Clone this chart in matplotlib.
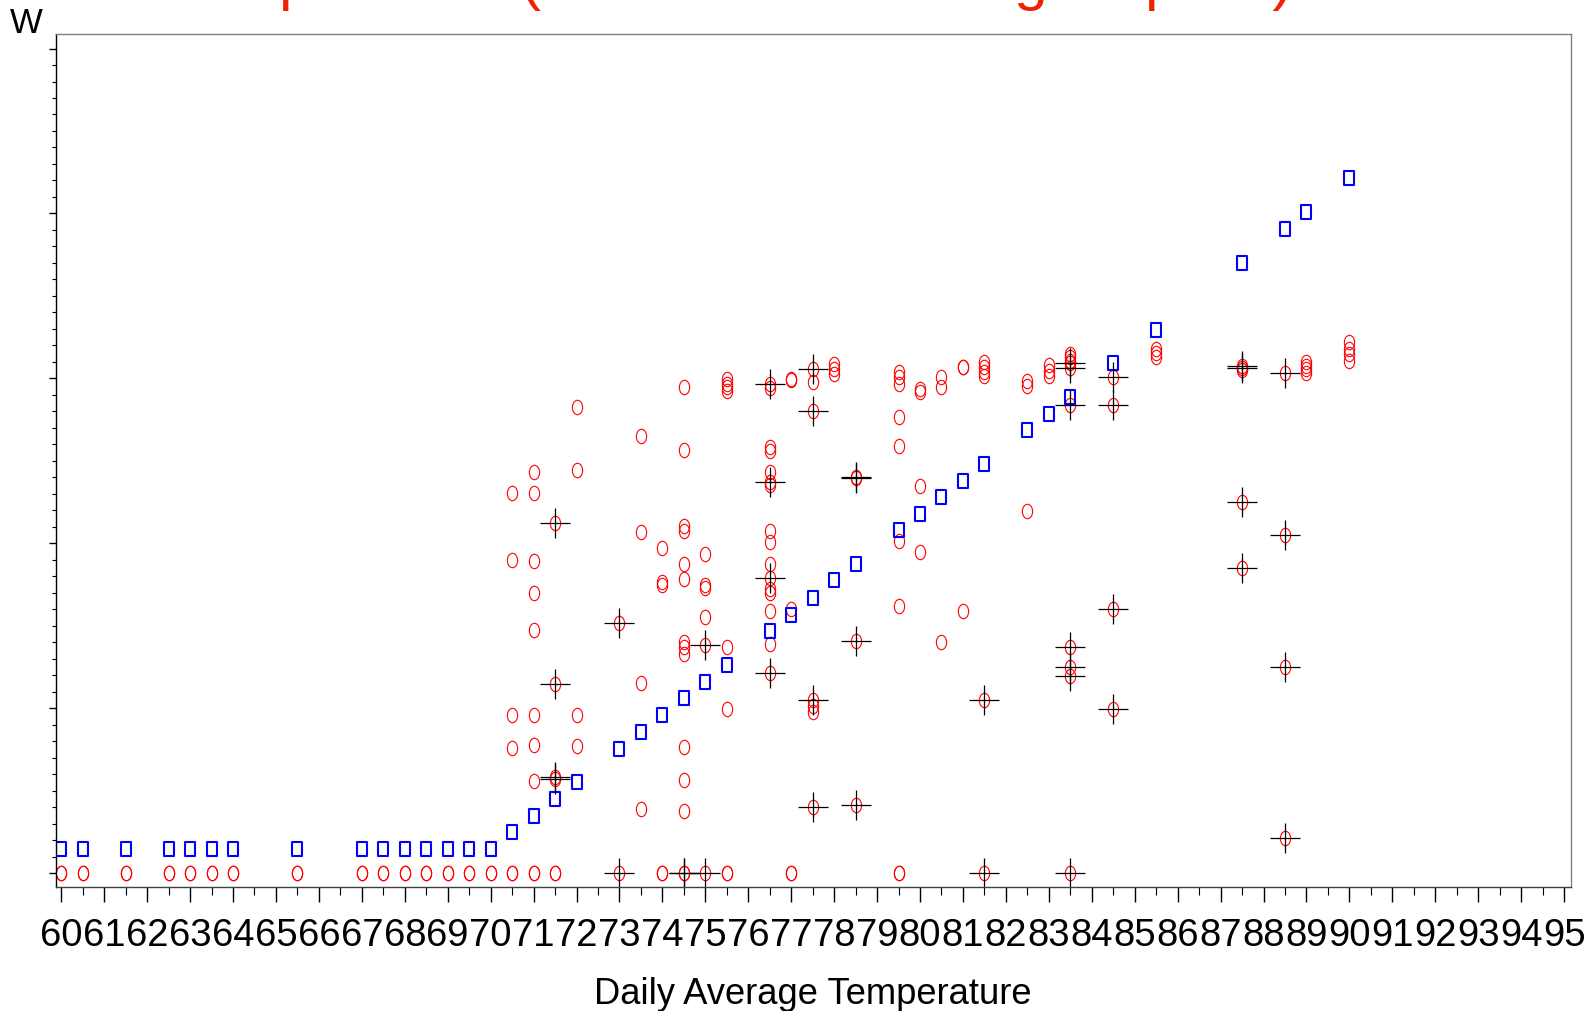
import matplotlib
matplotlib.use('Agg')
import matplotlib.pyplot as plt
import matplotlib.transforms as mtrans
from matplotlib.path import Path
from matplotlib.ticker import MultipleLocator, NullFormatter

plt.rcParams['font.family'] = ['Liberation Sans', 'DejaVu Sans']

# Smoothed / fitted value per daily average temperature (blue squares)
fit_temp = [60, 60.5, 61.5, 62.5, 63, 63.5, 64, 65.5, 67, 67.5, 68, 68.5, 69, 69.5, 70,
            70.5, 71, 71.5, 72, 73, 73.5, 74, 74.5, 75, 75.5, 76.5, 77, 77.5, 78, 78.5,
            79.5, 80, 80.5, 81, 81.5, 82.5, 83, 83.5, 84.5, 85.5, 87.5, 88.5, 89, 90]
fit_val = [1.45, 1.45, 1.45, 1.45, 1.45, 1.45, 1.45, 1.45, 1.45, 1.45, 1.45, 1.45, 1.45, 1.45, 1.45,
           2.49, 3.47, 4.52, 5.50, 7.53, 8.58, 9.56, 10.61, 11.59, 12.64, 14.67, 15.66, 16.70, 17.75, 18.73,
           20.83, 21.75, 22.80, 23.78, 24.83, 26.86, 27.85, 28.89, 30.92, 32.95, 37.02, 39.05, 40.09, 42.12]

# Observed days (red circles)
obs_temp = [60, 60, 60.5, 60.5, 61.5, 61.5, 62.5, 62.5, 63, 63, 63.5, 63.5, 64, 64,
            65.5, 65.5, 67, 67, 67.5, 67.5, 68, 68, 68.5, 68.5, 69, 69, 69.5, 69.5, 70, 70,
            70.5, 70.5, 70.5, 70.5, 70.5, 70.5,
            71, 71, 71, 71, 71, 71, 71, 71, 71, 71,
            71.5, 71.5,
            72, 72, 72, 72,
            73.5, 73.5, 73.5, 73.5,
            74, 74, 74, 74, 74,
            74.5, 74.5, 74.5, 74.5, 74.5, 74.5, 74.5, 74.5, 74.5, 74.5, 74.5, 74.5,
            75, 75, 75, 75,
            75.5, 75.5, 75.5, 75.5, 75.5, 75.5, 75.5, 75.5,
            76.5, 76.5, 76.5, 76.5, 76.5, 76.5, 76.5, 76.5, 76.5, 76.5, 76.5, 76.5,
            77, 77, 77, 77, 77,
            77.5, 77.5, 77.5,
            78, 78, 78,
            79.5, 79.5, 79.5, 79.5, 79.5, 79.5, 79.5, 79.5, 79.5,
            80, 80, 80, 80,
            80.5, 80.5, 80.5,
            81, 81, 81,
            81.5, 81.5, 81.5, 81.5,
            82.5, 82.5, 82.5,
            83, 83, 83,
            83.5, 83.5, 83.5,
            85.5, 85.5, 85.5,
            87.5,
            89, 89, 89, 89,
            90, 90, 90, 90]
obs_val = [0, 0, 0, 0, 0, 0, 0, 0, 0, 0, 0, 0, 0, 0,
           0, 0, 0, 0, 0, 0, 0, 0, 0, 0, 0, 0, 0, 0, 0, 0,
           23.04, 18.98, 9.56, 7.59, 0, 0,
           24.34, 23.04, 18.92, 17.01, 14.76, 9.56, 7.78, 5.56, 0, 0,
           0, 0,
           28.28, 24.44, 9.56, 7.71,
           26.52, 20.66, 11.53, 3.90,
           19.72, 17.62, 17.48, 0, 0,
           29.46, 25.66, 21.07, 20.76, 18.74, 17.83, 13.99, 13.69, 13.29, 7.66, 5.62, 3.78,
           19.35, 17.44, 17.26, 15.55,
           29.93, 29.66, 29.46, 29.26, 13.73, 9.93, 0, 0,
           29.44, 25.81, 25.62, 24.30, 23.53, 20.76, 20.06, 18.73, 17.22, 17.01, 15.87, 13.87,
           29.93, 29.90, 16.02, 0, 0,
           29.76, 10.12, 9.75,
           30.87, 30.57, 30.26,
           30.37, 30.06, 29.66, 27.68, 25.88, 20.16, 16.22, 0, 0,
           29.35, 29.19, 23.50, 19.49,
           30.06, 29.46, 14.03,
           30.71, 30.68, 15.91,
           30.98, 30.67, 30.41, 30.12,
           29.86, 29.56, 21.98,
           30.81, 30.47, 30.17,
           31.48, 31.28, 31.07,
           31.78, 31.53, 31.29,
           30.49,
           30.98, 30.77, 30.55, 30.30,
           32.18, 31.78, 31.47, 31.07]

# Flagged days (black plus over a red circle)
flag_temp = [71.5, 71.5, 71.5, 71.5,
             73, 73,
             74.5, 74.5,
             75, 75,
             76.5, 76.5, 76.5, 76.5,
             77.5, 77.5, 77.5, 77.5,
             78.5, 78.5, 78.5, 78.5,
             81.5, 81.5,
             83.5, 83.5, 83.5, 83.5, 83.5, 83.5, 83.5,
             84.5, 84.5, 84.5, 84.5,
             87.5, 87.5, 87.5, 87.5,
             88.5, 88.5, 88.5, 88.5]
flag_val = [21.23, 11.47, 5.85, 5.70,
            15.16, 0,
            0, 0,
            13.83, 0,
            29.66, 23.72, 17.87, 12.15,
            30.57, 28.04, 10.49, 4.02,
            24.00, 23.95, 14.09, 4.15,
            10.49, 0,
            30.92, 30.63, 28.39, 13.69, 12.47, 11.97, 0,
            30.06, 28.39, 16.01, 9.93,
            30.77, 30.61, 22.49, 18.49,
            30.35, 20.52, 12.52, 2.12]

xticks = list(range(60, 96))

# tall ellipse / tall rectangle markers like the SAS output
ellipse = Path.unit_circle().transformed(mtrans.Affine2D().scale(0.71, 1.0))
rect = Path([(-0.71, -1), (0.71, -1), (0.71, 1), (-0.71, 1), (-0.71, -1)],
            [Path.MOVETO, Path.LINETO, Path.LINETO, Path.LINETO, Path.CLOSEPOLY])

fig = plt.figure(figsize=(15.91, 10.12), dpi=100)
ax = fig.add_axes([0.035, 0.1228, 0.9524, 0.8426])

ax.plot(obs_temp + flag_temp, obs_val + flag_val, linestyle='none', marker=ellipse,
        markersize=10.4, markerfacecolor='none', markeredgecolor='#ff0000', markeredgewidth=0.8)
ax.plot(fit_temp, fit_val, linestyle='none', marker=rect, markersize=10.0,
        markerfacecolor='none', markeredgecolor='#0000ff', markeredgewidth=1.5)
ax.plot(flag_temp, flag_val, linestyle='none', marker='+', markersize=21.6,
        color='black', markeredgewidth=0.9)

ax.set_xlim(59.87, 95.16)
ax.set_ylim(-0.83, 50.88)

ax.set_xticks(xticks)
ax.set_xticklabels([str(t) for t in xticks])
ax.xaxis.set_minor_locator(MultipleLocator(0.5))
ax.yaxis.set_major_locator(MultipleLocator(10))
ax.yaxis.set_minor_locator(MultipleLocator(1))
ax.yaxis.set_major_formatter(NullFormatter())

ax.tick_params(axis='x', which='major', length=10.8, width=1.0, pad=10.8, labelsize=27.5)
ax.tick_params(axis='x', which='minor', length=6, width=0.8)
ax.tick_params(axis='y', which='major', length=5.3, width=1.0)
ax.tick_params(axis='y', which='minor', length=3.1, width=0.8)

ax.spines['left'].set_color('black')
ax.spines['bottom'].set_color('#404040')
ax.spines['top'].set_color('#808080')
ax.spines['right'].set_color('#808080')
for s in ax.spines.values():
    s.set_linewidth(1.0)

fig.text(0.511, 0.0168, 'Daily Average Temperature', fontsize=26.2, ha='center', va='center')
fig.text(10 / 1591, 1 - 33 / 1012, 'W', fontsize=25, ha='left', va='baseline')
# title sits mostly above the top edge, only the descenders show
fig.text(165 / 1591, 1 + 1 / 1012, 'Temperature (Actual vs Modeling as plots)',
         fontsize=43.5, color='#ee2200', ha='left', va='baseline')

fig.savefig('out.png', dpi=100)
